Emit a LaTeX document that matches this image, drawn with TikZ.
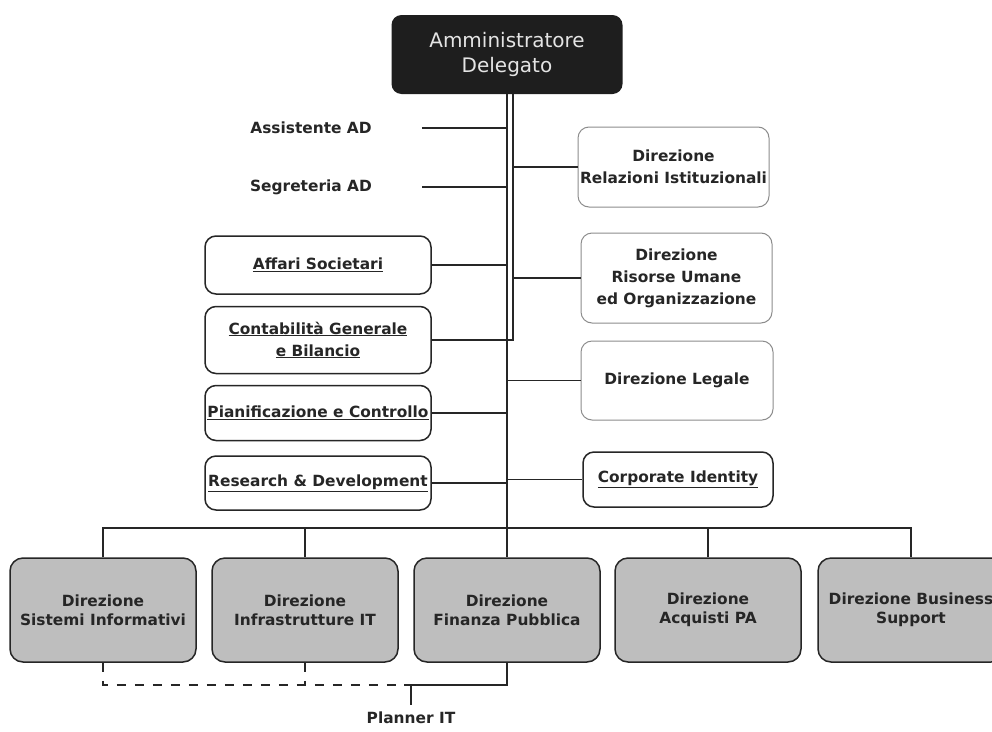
\documentclass[tikz,border=0pt]{standalone}
\usepackage{fontspec}
\setmainfont{DejaVu Sans}
\usetikzlibrary{positioning,calc}
\definecolor{adfill}{RGB}{30,30,30}
\definecolor{adtext}{RGB}{228,228,228}
\definecolor{dirgray}{RGB}{190,190,190}
\definecolor{inkdark}{RGB}{38,38,38}
\colorlet{linedark}{black!85}
\colorlet{softline}{black!45}

\begin{document}
\begin{tikzpicture}[x=1pt,y=-1pt,
    every node/.style={font=\fontsize{15.4}{22}\selectfont\bfseries,text=inkdark,align=center,inner sep=0pt},
    staffbox/.style={draw=linedark,line width=1.5pt,rounded corners=11pt,minimum width=226pt},
    softbox/.style={draw=softline,line width=1pt,rounded corners=11pt,minimum width=191pt},
    dirbox/.style={draw=linedark,line width=1.5pt,fill=dirgray,rounded corners=13pt,minimum width=186pt,minimum height=104pt,font=\fontsize{15.4}{19}\selectfont\bfseries},
    conn/.style={linedark,line width=1.4pt},
    plandash/.style={conn,dash pattern=on 9pt off 9pt}]
  \fill[white,use as bounding box] (0,0) rectangle (992,731);

  % vertice
  \node[fill=adfill,rounded corners=10pt,minimum width=231pt,minimum height=79pt,text=adtext,font=\fontsize{20}{25}\selectfont] (ad) at (507,54.5) {Amministratore\\Delegato};

  % staff a sinistra
  \node (assist) at (311,128) {Assistente AD};
  \node (segr) at (311,187) {Segreteria AD};
  \node[staffbox,minimum height=58pt] (affari) at (318,265) {\underline{Affari Societari}};
  \node[staffbox,minimum height=67pt] (conta) at (318,340) {\underline{Contabilità Generale}\\\underline{e Bilancio}};
  \node[staffbox,minimum height=55pt] (piani) at (318,413) {\underline{Pianificazione e Controllo}};
  \node[staffbox,minimum height=54pt] (resdev) at (318,483) {\underline{Research \& Development}};

  % staff a destra
  \node[softbox,minimum height=80pt] (relaz) at (673.5,167) {Direzione\\Relazioni Istituzionali};
  \node[softbox,minimum height=90pt] (risorse) at (676.5,278) {Direzione\\Risorse Umane\\ed Organizzazione};
  \node[softbox,minimum width=192pt,minimum height=79pt] (legale) at (677,380.5) {Direzione Legale};
  \node[staffbox,minimum width=190pt,minimum height=55pt] (corp) at (678,479.5) {\underline{Corporate Identity}};

  % direzioni di linea
  \node[dirbox] (sis) at (103,610) {Direzione\\Sistemi Informativi};
  \node[dirbox] (infra) at (305,610) {Direzione\\Infrastrutture IT};
  \node[dirbox] (fin) at (507,610) {Direzione\\Finanza Pubblica};
  \node[dirbox] (acq) at (708,610) {Direzione\\Acquisti PA};
  \node[dirbox] (busi) at (911,610) {Direzione Business\\Support};
  \node (planner) at (411,718) {Planner IT};

  % collegamenti
  \coordinate (spR) at ([xshift=6pt]ad.south);
  \coordinate (bar) at (0,528);
  \coordinate (dashend) at (404,685);
  \draw[conn] (ad.south) -- (fin.north);
  \draw[conn] (spR) -- (spR |- conta.east) -- (conta.east);
  \draw[conn] ([xshift=50pt]assist.east) -- (assist.east -| ad.south);
  \draw[conn] ([xshift=50pt]segr.east) -- (segr.east -| ad.south);
  \foreach \n in {affari,piani,resdev}
    \draw[conn] (\n.east) -- (\n.east -| ad.south);
  \foreach \n in {relaz,risorse}
    \draw[conn] (\n.west -| spR) -- (\n.west);
  \foreach \n in {legale,corp}
    \draw[conn] (\n.west -| ad.south) -- (\n.west);
  \draw[conn,line width=2pt] (sis.north) -- (sis.north |- bar) -- (busi.north |- bar) -- (busi.north);
  \foreach \n in {infra,acq}
    \draw[conn] (\n.north) -- (\n.north |- bar);
  \draw[plandash] (sis.south) |- (dashend);
  \draw[plandash] (infra.south) -- (infra.south |- dashend);
  \draw[conn] (fin.south) |- (dashend);
  \draw[conn] (planner.north |- dashend) -- ([yshift=7pt]planner.north);
\end{tikzpicture}
\end{document}
